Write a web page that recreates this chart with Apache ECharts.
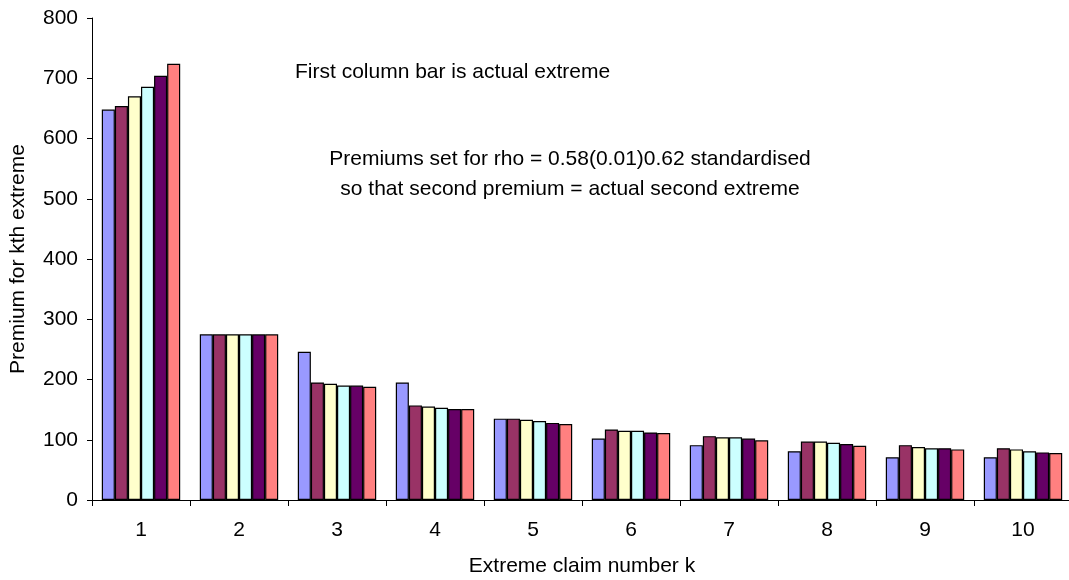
<!DOCTYPE html>
<html>
<head>
<meta charset="utf-8">
<script src="https://cdn.jsdelivr.net/npm/echarts@6/dist/echarts.min.js"></script>
<style>
  html, body { margin: 0; padding: 0; background: #fff; }
  #main { width: 1069px; height: 580px; }
</style>
</head>
<body>
<div id="main"></div>
<script>
    // extreme claim number k
    var categories = ['1', '2', '3', '4', '5', '6', '7', '8', '9', '10'];

    // first column is the actual extreme, the rest are premiums for rho = 0.58 .. 0.62
    var actual  = [648, 275, 246, 195, 135, 102, 91, 81, 71, 71];
    var rho058  = [654, 275, 195, 157, 135, 117, 106, 97, 91, 86];
    var rho059  = [670, 275, 193, 155, 133, 115, 104, 97, 88, 84];
    var rho060  = [686, 275, 190, 153, 131, 115, 104, 95, 86, 81];
    var rho061  = [704, 275, 190, 151, 128, 112, 102, 93, 86, 79];
    var rho062  = [724, 275, 188, 151, 126, 111, 99, 90, 84, 78];

    var seriesData = [actual, rho058, rho059, rho060, rho061, rho062];
    var colors = ['#9999FF', '#993366', '#FFFFCC', '#CCFFFF', '#660066', '#FF8080'];

    var myChart = echarts.init(document.getElementById('main'));

    var font = 'Liberation Sans, Arial, sans-serif';
    var fs = 21;

    var series = seriesData.map(function(d, i) {
        return {
            type: 'bar',
            data: d,
            barGap: '0%',
            barCategoryGap: '20%',
            itemStyle: {
                color: colors[i],
                borderColor: '#000',
                borderWidth: 1.2
            },
            emphasis: { disabled: true }
        };
    });

    var option = {
        animation: false,
        backgroundColor: '#fff',
        grid: {
            left: 92,
            right: -3,
            top: 18,
            bottom: 80,
            containLabel: false,
            outerBoundsMode: 'none'
        },
        xAxis: {
            type: 'category',
            data: categories,
            name: 'Extreme claim number k',
            nameLocation: 'middle',
            nameGap: 56,
            nameTextStyle: { fontFamily: font, fontSize: fs, color: '#000' },
            axisLine: { lineStyle: { color: '#000' } },
            axisTick: { show: true, length: 6, lineStyle: { color: '#000' } },
            axisLabel: { fontFamily: font, fontSize: fs, color: '#000', margin: 20 },
            splitLine: { show: false }
        },
        yAxis: {
            type: 'value',
            min: 0,
            max: 800,
            interval: 100,
            name: 'Premium for kth extreme',
            nameLocation: 'middle',
            nameGap: 63,
            nameTextStyle: { fontFamily: font, fontSize: fs, color: '#000' },
            axisLine: { show: true, lineStyle: { color: '#000' } },
            axisTick: { show: true, length: 5, inside: false, lineStyle: { color: '#000' } },
            axisLabel: { fontFamily: font, fontSize: fs, color: '#000', margin: 14 },
            splitLine: { show: false }
        },
        graphic: [
            {
                type: 'text',
                left: 295,
                top: 62,
                style: {
                    text: 'First column bar is actual extreme',
                    font: fs + 'px ' + font,
                    fill: '#000'
                }
            },
            {
                type: 'text',
                x: 570,
                y: 174,
                style: {
                    text: 'Premiums set for rho = 0.58(0.01)0.62 standardised\nso that second premium = actual second extreme',
                    font: fs + 'px ' + font,
                    fill: '#000',
                    align: 'center',
                    verticalAlign: 'middle',
                    lineHeight: 30
                }
            }
        ],
        series: series
    };

    myChart.setOption(option);
</script>
</body>
</html>
